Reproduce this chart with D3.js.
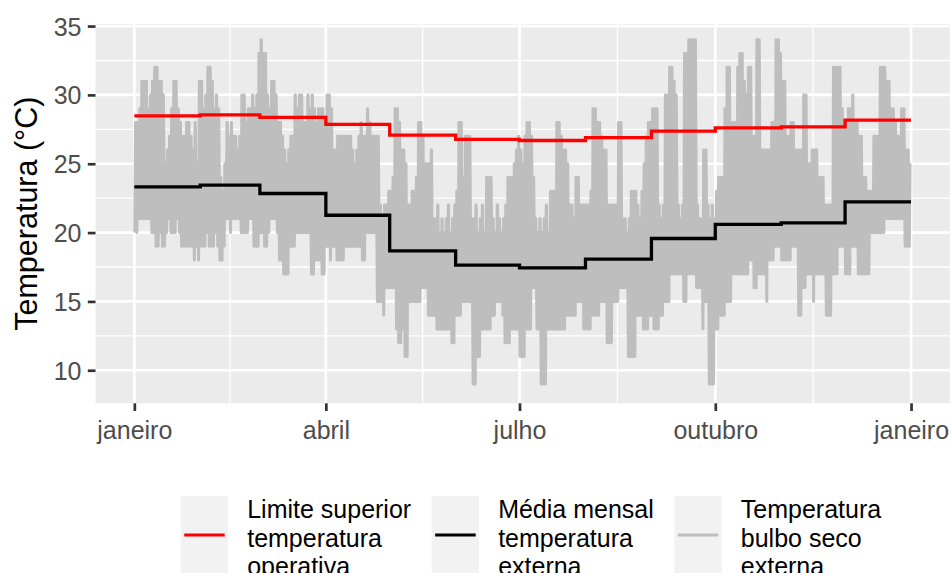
<!DOCTYPE html>
<html><head><meta charset="utf-8">
<script src="https://cdn.jsdelivr.net/npm/d3@7"></script>
<style>
body{margin:0;background:#fff;}
svg{display:block;font-family:"Liberation Sans",Arial,Helvetica,sans-serif;}
</style></head><body>
<svg id="chart" width="951" height="573"></svg>
<script>
// ---------------- data ----------------
const monthStarts = ["2019-01-01","2019-02-01","2019-03-01","2019-04-01","2019-05-01","2019-06-01",
                     "2019-07-01","2019-08-01","2019-09-01","2019-10-01","2019-11-01","2019-12-01"];
const dataStart = "2019-01-01T00:00:00Z";
const dataEnd   = "2019-12-31T23:00:00Z";
const limiteSuperior = [28.48,28.55,28.37,27.86,27.08,26.77,26.69,26.90,27.37,27.61,27.68,28.17];
const mediaMensal    = [23.32,23.44,22.84,21.26,18.67,17.63,17.44,18.07,19.57,20.59,20.70,22.23];
const xTickDates  = ["2019-01-01","2019-04-01","2019-07-01","2019-10-01","2020-01-01"];
const xTickLabels = ["janeiro","abril","julho","outubro","janeiro"];
const yTicks = [10,15,20,25,30,35];
const yMinor = [12.5,17.5,22.5,27.5,32.5];
const yLimits = [7.6,35.15];
// daily maximum / minimum of the dry-bulb temperature (one value per day, Jan..Dec)
const dailyMax = [
 28,28,29,31,31,31,29,30,31,32,32,31,31,30,25,26,27,29,31,31,29,28,27,27,28,28,27,26,28,25,31,
 31,29,30,32,32,31,29,30,29,24,23,25,28,27,28,27,27,26,27,30,30,28,29,29,30,29,30,33,
 34,33,33,30,29,31,31,30,28,28,27,26,25,26,27,27,30,29,30,30,28,28,30,29,30,29,28,29,29,29,28,
 30,30,29,26,26,27,27,27,27,27,27,27,26,25,26,27,28,27,27,29,28,27,27,27,27,22,21,22,22,23,
 23,24,29,29,28,26,26,25,22,22,23,23,24,28,28,27,25,25,25,26,21,21,22,20,21,20,21,22,20,21,22,
 23,28,28,24,27,27,27,21,21,22,20,21,22,20,24,24,24,21,20,22,21,20,21,22,24,24,24,25,26,27,
 26,25,27,28,28,27,24,21,20,21,20,21,22,20,23,23,23,28,28,27,26,26,25,22,22,21,24,24,22,22,22,
 22,22,23,29,29,28,28,27,26,26,22,22,22,22,22,28,28,21,21,20,21,23,23,23,22,21,23,25,27,28,28,
 29,29,29,22,21,22,30,30,32,32,31,30,22,21,22,33,33,34,34,34,34,22,21,21,26,26,22,21,22,21,
 23,24,24,24,29,32,32,28,28,28,32,33,33,31,30,32,32,27,27,34,34,26,26,26,26,26,28,28,34,34,33,
 31,31,27,27,28,28,26,26,26,26,30,30,25,25,26,26,26,24,24,24,22,22,22,22,32,32,32,32,29,28,
 28,29,29,30,28,28,27,27,24,24,23,23,23,27,27,27,32,32,32,31,31,29,29,28,27,27,29,29,26,26,25
];
const dailyMin = [
 20,20,21,21,21,21,21,21,20,20,19,19,20,19,19,20,21,20,20,20,21,20,19,19,19,19,19,19,18,19,18,
 19,19,19,20,19,19,19,20,19,18,18,19,21,21,20,21,21,21,21,20,20,20,20,21,21,19,19,19,
 20,20,19,19,20,21,21,21,20,18,18,17,17,17,19,19,19,20,20,20,20,20,20,20,17,17,18,18,18,17,17,
 19,19,18,19,19,18,18,18,18,19,19,19,19,19,19,19,19,18,18,20,20,20,20,20,15,15,15,14,16,16,
 16,16,16,13,12,12,13,11,11,15,15,15,15,15,15,16,16,16,14,14,14,14,13,13,13,13,13,13,13,12,12,
 14,14,14,15,15,15,15,15,9,9,11,11,13,13,13,13,13,14,14,15,15,15,14,12,12,12,13,13,13,13,
 11,11,11,13,13,13,16,16,13,13,9,9,9,13,13,13,13,13,13,13,13,13,14,14,14,14,14,15,15,15,13,
 13,13,13,14,14,14,14,15,15,15,12,12,12,15,15,15,16,16,16,16,11,11,11,11,14,14,14,13,13,13,14,
 14,13,13,13,14,14,15,15,15,17,17,17,17,17,17,15,15,17,17,17,17,16,16,16,13,15,15,9,9,9,
 13,13,14,14,14,15,15,15,17,17,17,17,17,17,17,17,18,18,16,16,17,17,17,17,15,18,18,18,19,19,19,
 18,18,18,18,18,19,19,19,14,14,16,16,17,17,17,15,17,17,17,17,17,14,14,14,17,17,17,19,19,19,
 17,17,17,19,19,19,17,17,17,17,17,17,20,20,20,20,20,20,20,21,21,21,21,21,21,21,21,21,19,19,19
];
const legendItems = [
  {lines:["Limite superior","temperatura","operativa"], color:"#FF0000"},
  {lines:["Média mensal","temperatura","externa"], color:"#000000"},
  {lines:["Temperatura","bulbo seco","externa"], color:"#BEBEBE"}
];

// ---------------- layout ----------------
const svg = d3.select("#chart");
const panel = {left:95.5, right:949.8, top:24, bottom:403.3};
const t0 = new Date(dataStart), t1 = new Date(dataEnd);
const span = t1 - t0;
const x = d3.scaleUtc()
  .domain([new Date(+t0 - 0.05*span), new Date(+t1 + 0.05*span)])
  .range([panel.left, panel.right]);
const y = d3.scaleLinear().domain(yLimits).range([panel.bottom, panel.top]);

// panel background
svg.append("rect").attr("x",panel.left).attr("y",panel.top)
  .attr("width",panel.right-panel.left).attr("height",panel.bottom-panel.top)
  .attr("fill","#EBEBEB");

const xMajor = xTickDates.map(d => new Date(d + "T00:00:00Z"));
const xMinorDates = d3.pairs(xMajor).map(([a,b]) => new Date((+a + +b)/2));
const grid = svg.append("g");
yMinor.forEach(v => grid.append("line").attr("x1",panel.left).attr("x2",panel.right)
  .attr("y1",y(v)).attr("y2",y(v)).attr("stroke","#fff").attr("stroke-width",1.35));
xMinorDates.forEach(d => grid.append("line").attr("y1",panel.top).attr("y2",panel.bottom)
  .attr("x1",x(d)).attr("x2",x(d)).attr("stroke","#fff").attr("stroke-width",1.35));
yTicks.forEach(v => grid.append("line").attr("x1",panel.left).attr("x2",panel.right)
  .attr("y1",y(v)).attr("y2",y(v)).attr("stroke","#fff").attr("stroke-width",2.7));
xMajor.forEach(d => grid.append("line").attr("y1",panel.top).attr("y2",panel.bottom)
  .attr("x1",x(d)).attr("x2",x(d)).attr("stroke","#fff").attr("stroke-width",2.7));

// clip
svg.append("clipPath").attr("id","clip").append("rect")
  .attr("x",panel.left).attr("y",panel.top)
  .attr("width",panel.right-panel.left).attr("height",panel.bottom-panel.top);
const plot = svg.append("g").attr("clip-path","url(#clip)");

// dry-bulb series: daily min (early morning) and max (afternoon)
const DAY = 86400000, HOUR = 3600000;
const hourly = [];
dailyMax.forEach((mx,i) => {
  const base = +t0 + i*DAY;
  hourly.push({t:new Date(base + 5*HOUR), v:dailyMin[i]});
  hourly.push({t:new Date(base + 13*HOUR), v:mx});
  hourly.push({t:new Date(base + 16*HOUR), v:mx});
});
plot.append("path").datum(hourly)
  .attr("d", d3.line().x(d=>x(d.t)).y(d=>y(d.v)))
  .attr("fill","none").attr("stroke","#BEBEBE").attr("stroke-width",3)
  .attr("stroke-linejoin","round");

function stepData(vals){
  const pts = monthStarts.map((m,i)=>({t:new Date(m+"T00:00:00Z"), v:vals[i]}));
  pts.push({t:t1, v:vals[vals.length-1]});
  return pts;
}
const stepLine = d3.line().x(d=>x(d.t)).y(d=>y(d.v)).curve(d3.curveStepAfter);
plot.append("path").datum(stepData(mediaMensal)).attr("d",stepLine)
  .attr("fill","none").attr("stroke","#000").attr("stroke-width",3.3);
plot.append("path").datum(stepData(limiteSuperior)).attr("d",stepLine)
  .attr("fill","none").attr("stroke","#FF0000").attr("stroke-width",3.3);

// axes
const yAxis = svg.append("g").attr("transform",`translate(${panel.left},0)`)
  .call(d3.axisLeft(y).tickValues(yTicks).tickSize(7.7).tickPadding(6.3));
const xAxis = svg.append("g").attr("transform",`translate(0,${panel.bottom})`)
  .call(d3.axisBottom(x).tickValues(xMajor).tickSize(7.7).tickPadding(10.5)
    .tickFormat((d,i)=>xTickLabels[i]));
[yAxis,xAxis].forEach(a=>{
  a.select(".domain").remove();
  a.selectAll(".tick line").attr("stroke","#333333").attr("stroke-width",2.7);
  a.selectAll(".tick text").attr("fill","#4D4D4D").style("font-size","25px")
   .style("font-family","'Liberation Sans',Arial,sans-serif");
});
yAxis.selectAll(".tick text").attr("dy","0.36em");

// y title
svg.append("text").attr("transform",`translate(37,${(panel.top+panel.bottom)/2}) rotate(-90)`)
  .attr("text-anchor","middle").style("font-size","30.5px").attr("fill","#000")
  .text("Temperatura (°C)");

// legend
const keyW = 47.5, keyH = 78, keyTop = 496, lineH = 28.4;
let lx = 180.7;
legendItems.forEach(item=>{
  const g = svg.append("g");
  g.append("rect").attr("x",lx).attr("y",keyTop).attr("width",keyW).attr("height",keyH).attr("fill","#F2F2F2");
  g.append("line").attr("x1",lx+3.5).attr("x2",lx+keyW-3.5)
    .attr("y1",keyTop+keyH/2).attr("y2",keyTop+keyH/2)
    .attr("stroke",item.color).attr("stroke-width",3.2);
  const tx = lx + keyW + 19;
  let maxW = 0;
  item.lines.forEach((s,j)=>{
    const t = g.append("text").attr("x",tx).attr("y",518.3 + j*lineH)
      .style("font-size","25px").attr("fill","#000").text(s);
    maxW = Math.max(maxW, t.node().getComputedTextLength());
  });
  lx = tx + maxW + 20.5;
});
</script>
</body></html>
